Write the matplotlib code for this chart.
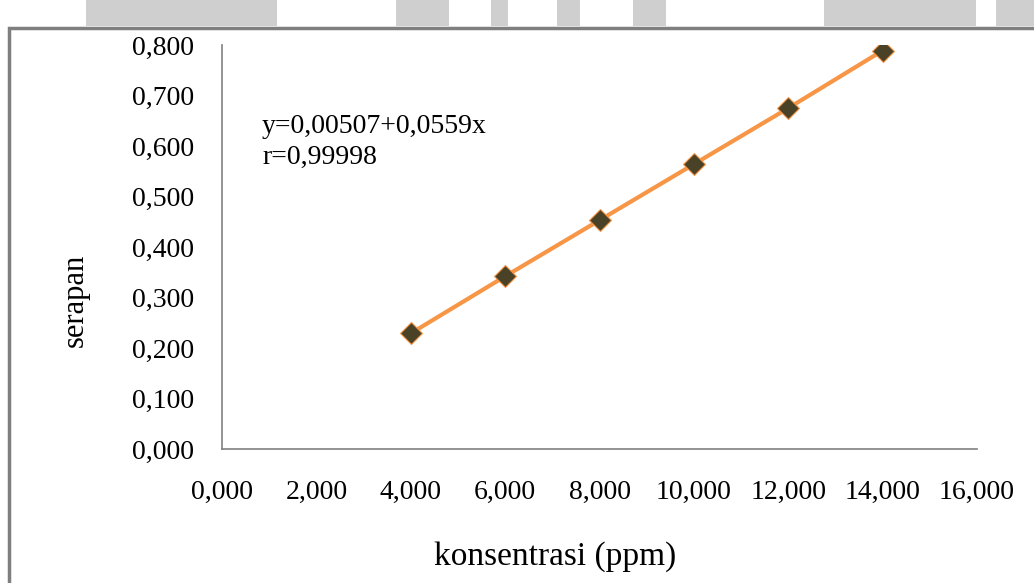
import matplotlib.pyplot as plt
from matplotlib.patches import Rectangle
from matplotlib.ticker import FuncFormatter

# data
konsentrasi = [4, 6, 8, 10, 12, 14]
serapan = [0.229, 0.342, 0.453, 0.564, 0.675, 0.789]
x_ticks = [0, 2, 4, 6, 8, 10, 12, 14, 16]
y_ticks = [0.0, 0.1, 0.2, 0.3, 0.4, 0.5, 0.6, 0.7, 0.8]
eq_text = "y=0,00507+0,0559x\nr=0,99998"

plt.rcParams['font.family'] = ['Liberation Serif', 'DejaVu Serif']

fig = plt.figure(figsize=(10.34, 5.83), dpi=100)
ax = fig.add_axes([0.2147, 0.2298, 0.7302, 0.693])

ax.plot(konsentrasi, serapan, '-', color='#f79646', linewidth=3, zorder=2)
ax.plot(konsentrasi, serapan, 'D', color='#4a4226', markersize=11,
        markeredgecolor='#f79646', markeredgewidth=0.8, zorder=3)

ax.set_xlim(0, 16)
ax.set_ylim(0, 0.8)
ax.set_xticks(x_ticks)
ax.set_yticks(y_ticks)

comma = lambda v, p: f"{v:.3f}".replace('.', ',')
ax.xaxis.set_major_formatter(FuncFormatter(comma))
ax.yaxis.set_major_formatter(FuncFormatter(comma))
ax.tick_params(axis='x', length=0, pad=22, labelsize=20)
ax.tick_params(axis='y', length=0, pad=20, labelsize=20)

for side in ['top', 'right']:
    ax.spines[side].set_visible(False)
for side in ['left', 'bottom']:
    ax.spines[side].set_color('#808080')
    ax.spines[side].set_linewidth(1.2)

ax.set_xlabel('konsentrasi (ppm)', fontsize=24, va='center')
ax.xaxis.set_label_coords(0.441, -0.267)
ax.set_ylabel('serapan', fontsize=22, va='center')
ax.yaxis.set_label_coords(-0.195, 0.369)

ax.text(0.053, 0.828, eq_text, transform=ax.transAxes, fontsize=20,
        va='top', ha='left', linespacing=1.3)

# scan frame and faint watermark along the top
fig.add_artist(Rectangle((0.009, -0.1), 1.1, 1.052, fill=False,
                         edgecolor='#7f7f7f', linewidth=2.5,
                         transform=fig.transFigure))
for x0, x1 in [(86, 277), (396, 449), (491, 508), (557, 580),
               (633, 666), (824, 976), (996, 1034)]:
    fig.add_artist(Rectangle((x0 / 1034, 1 - 26 / 583), (x1 - x0) / 1034,
                             26 / 583, facecolor='#cfcfcf', edgecolor='none',
                             transform=fig.transFigure))

plt.savefig('out.png', dpi=100, facecolor='white')
